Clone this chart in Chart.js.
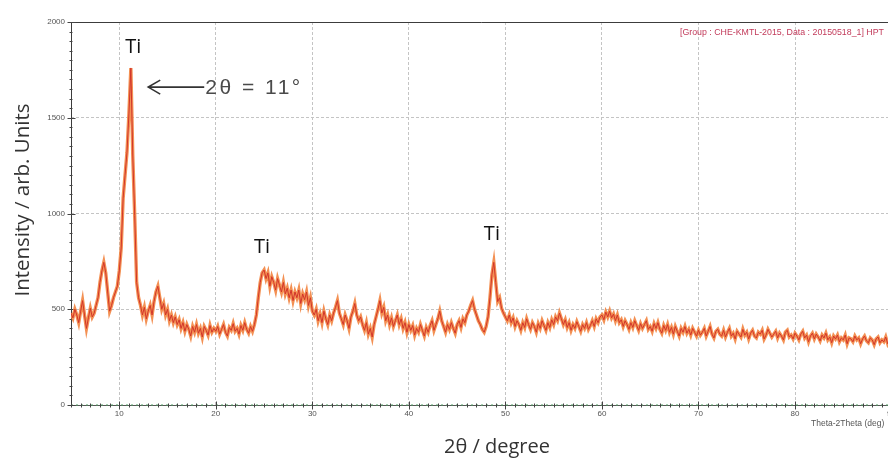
<!DOCTYPE html>
<html>
<head>
<meta charset="utf-8">
<script src="https://cdn.jsdelivr.net/npm/chart.js@4.4.1/dist/chart.umd.min.js"></script>
<style>
  html, body { margin: 0; padding: 0; background: #fff; overflow: hidden; }
  #wrap { position: relative; width: 900px; height: 460px; }
</style>
</head>
<body>
<div id="wrap"><canvas id="xrd" width="900" height="460"></canvas></div>
<script>
// Theta-2Theta scan: start angle and step (degrees)
const scanStart = 5;
const scanStep = 0.2;

// Measured intensity, 5.0 - 19.8 deg
const counts05to20 = [
  480, 455, 500, 470, 430, 490, 545, 470, 400, 455,
  505, 460, 480, 520, 560, 640, 700, 745, 690, 590,
  490, 520, 560, 590, 620, 700, 820, 1080, 1200, 1320,
  1520, 1760, 1300, 990, 640, 560, 520, 470, 510, 450,
  490, 520, 470, 540, 590, 620, 560, 500, 530, 470,
  500, 440, 470, 430, 460, 420, 445, 400, 430, 385,
  420, 395, 360, 410, 380, 420, 375, 400, 355, 410,
  390, 365, 415, 380, 400
];
// 20.0 - 34.8 deg
const counts20to35 = [
  385, 410, 370, 395, 420, 380, 360, 405, 390, 425,
  385, 400, 370, 415, 390, 430, 395, 375, 410, 385,
  420, 470, 560, 640, 690, 705, 660, 690, 620, 670,
  640, 600, 660, 625, 590, 640, 580, 610, 560, 600,
  545, 590, 560, 600, 530, 580, 550, 590, 520, 560,
  490, 470, 500, 440, 475, 430, 490, 450, 420, 470,
  440, 480, 510, 545, 480, 450, 420, 470, 440, 400,
  460, 490, 530, 470, 440
];
// 35.0 - 49.8 deg
const counts35to50 = [
  460, 420, 390, 430, 370, 400, 355, 420, 460, 500,
  545, 480, 510, 440, 470, 420, 455, 410, 440, 470,
  420, 450, 400, 430, 380, 420, 390, 415, 365, 400,
  380, 420, 390, 360, 405, 380, 415, 440, 390, 420,
  450, 490, 440, 410, 380, 420, 395, 430, 400, 375,
  420, 440, 405, 450, 430, 470, 490, 520, 545, 500,
  470, 440, 420, 395, 380, 410, 460, 560, 680, 745,
  640, 540, 560, 505, 480
];
// 50.0 - 69.8 deg
const counts50to70 = [
  460, 440, 470, 430, 455, 410, 440, 420, 390, 430,
  405, 450, 420, 395, 430, 410, 380, 425, 400, 440,
  415, 390, 430, 405, 445, 420, 460, 440, 480, 450,
  420, 445, 405, 430, 390, 420, 400, 435, 410, 385,
  420, 400, 430, 395, 415, 440, 410, 450, 430, 460,
  470, 445, 485, 460, 490, 455, 475, 440, 470, 430,
  445, 410, 440, 420, 395, 430, 405, 440, 415, 390,
  425, 400, 420, 440, 395, 410, 385, 425, 400, 430,
  395, 375, 415, 390, 420, 380, 405, 370, 410, 385,
  360, 400, 380, 410, 375, 395, 365, 400, 380, 360
];
// 70.0 - 90.0 deg
const counts70to90 = [
  390, 365, 380, 400, 360, 385, 410, 370, 350, 385,
  395, 370, 360, 390, 355, 380, 400, 360, 375, 345,
  385, 370, 355, 395, 365, 380, 345, 375, 390, 360,
  350, 380, 370, 390, 345, 365, 395, 375, 355, 370,
  385, 350, 375, 360, 340, 380, 390, 355, 365, 345,
  375, 360, 340, 370, 385, 350, 365, 330, 360, 375,
  345, 370, 355, 335, 365, 350, 375, 340, 355, 325,
  360, 345, 365, 330, 350, 340, 365, 320, 350, 345,
  330, 360, 340, 350, 320, 345, 360, 335, 325, 350,
  340, 315, 345, 355, 325, 340, 330, 355, 320, 340,
  335
];

// Axis tick labels
const xTickValues = [10, 20, 30, 40, 50, 60, 70, 80, 90];
const yTickValues = [0, 500, 1000, 1500, 2000];

const intensity = [].concat(counts05to20, counts20to35, counts35to50, counts50to70, counts70to90);
const scanPoints = intensity.map((v, i) => ({ x: +(scanStart + i * scanStep).toFixed(2), y: v }));

// Frame, minor ticks, peak labels and axis titles
const framePlugin = {
  id: 'frame',
  beforeDatasetsDraw(chart) {
    const { ctx, chartArea: a, scales: { x, y } } = chart;
    ctx.save();
    ctx.lineWidth = 1;
    ctx.strokeStyle = '#3c3c3c';
    // top border
    const yTop = Math.round(y.getPixelForValue(2000)) + 0.5;
    ctx.beginPath(); ctx.moveTo(a.left, yTop); ctx.lineTo(a.right, yTop); ctx.stroke();
    // left axis
    const xl = Math.round(a.left) + 0.5;
    ctx.beginPath(); ctx.moveTo(xl, a.top); ctx.lineTo(xl, a.bottom); ctx.stroke();
    // bottom axis
    const yb = Math.round(y.getPixelForValue(0)) + 0.5;
    ctx.strokeStyle = '#555';
    ctx.beginPath(); ctx.moveTo(a.left, yb); ctx.lineTo(a.right, yb); ctx.stroke();
    ctx.strokeStyle = '#4f9e63';
    ctx.setLineDash([2, 3]);
    ctx.beginPath(); ctx.moveTo(a.left, yb - 0.5); ctx.lineTo(a.right, yb - 0.5); ctx.stroke();
    ctx.setLineDash([]);
    // x ticks: every degree, longer at tens
    ctx.strokeStyle = '#444';
    for (let d = 5; d <= 90; d++) {
      const px = Math.round(x.getPixelForValue(d)) + 0.5;
      const len = d % 10 === 0 ? 4 : 2;
      ctx.beginPath(); ctx.moveTo(px, yb - len); ctx.lineTo(px, yb + len); ctx.stroke();
    }
    // y ticks: every 50 counts
    for (let c = 0; c <= 2000; c += 50) {
      const py = Math.round(y.getPixelForValue(c)) + 0.5;
      const len = c % 500 === 0 ? 4 : 2;
      ctx.beginPath(); ctx.moveTo(xl - len, py); ctx.lineTo(xl + (c % 500 === 0 ? len : 1), py); ctx.stroke();
    }
    ctx.restore();
  },
  afterDraw(chart) {
    const { ctx, scales: { x, y } } = chart;
    ctx.save();
    ctx.textAlign = 'center';
    ctx.textBaseline = 'middle';
    // peak labels
    ctx.fillStyle = '#111';
    ctx.font = '20px "Open Sans", "Noto Sans", sans-serif';
    [[11.45, 1870], [24.8, 825], [48.6, 893]].forEach(([ang, cnt]) => {
      ctx.fillText('Ti', x.getPixelForValue(ang), y.getPixelForValue(cnt));
    });
    // arrow pointing at the main reflection
    const ay = y.getPixelForValue(1660);
    const ax0 = x.getPixelForValue(13.0);
    const ax1 = x.getPixelForValue(18.8);
    ctx.strokeStyle = '#333';
    ctx.lineWidth = 1.6;
    ctx.beginPath();
    ctx.moveTo(ax1, ay); ctx.lineTo(ax0, ay);
    ctx.moveTo(ax0 + 12, ay - 7); ctx.lineTo(ax0, ay); ctx.lineTo(ax0 + 12, ay + 7);
    ctx.stroke();
    ctx.fillStyle = '#4a4a4a';
    ctx.textAlign = 'left';
    ctx.font = '21px "Liberation Sans", Arial, sans-serif';
    ctx.letterSpacing = '2.5px';
    ctx.fillText('2\u03b8 = 11\u00b0', ax1 + 1, ay + 1);
    ctx.letterSpacing = '0px';
    // axis titles
    ctx.fillStyle = '#333';
    ctx.textAlign = 'center';
    ctx.font = '20px "Open Sans", "Noto Sans", sans-serif';
    ctx.fillText('2\u03b8 / degree', 497, 447);
    ctx.save();
    ctx.translate(23, 200);
    ctx.rotate(-Math.PI / 2);
    ctx.font = '20.5px "Open Sans", "Noto Sans", sans-serif';
    ctx.fillText('Intensity / arb. Units', 0, 0);
    ctx.restore();
    // instrument captions
    ctx.textAlign = 'left';
    ctx.font = '8.8px "Liberation Sans", Arial, sans-serif';
    ctx.fillStyle = '#c23a5a';
    ctx.fillText('[Group : CHE-KMTL-2015, Data : 20150518_1] HPT', 680, 33);
    ctx.fillStyle = '#555';
    ctx.font = '8.5px "Liberation Sans", Arial, sans-serif';
    ctx.fillText('Theta-2Theta (deg)', 811, 424);
    ctx.restore();
  }
};

const hideEnds = (ctx) => (ctx.tick && (ctx.tick.value === 0 || ctx.tick.value === 2000)) ? 'rgba(0,0,0,0)' : '#c4c4c4';
const plainLabel = (v) => String(v);

new Chart(document.getElementById('xrd'), {
  type: 'line',
  data: {
    datasets: [
      {
        // dark trace on top
        data: scanPoints,
        borderColor: '#d2352b',
        borderWidth: 1,
        pointRadius: 0,
        tension: 0,
        fill: false,
        order: 0
      },
      {
        // broad orange band underneath
        data: scanPoints,
        borderColor: 'rgba(242,132,64,0.9)',
        borderWidth: 3.4,
        pointRadius: 0,
        tension: 0,
        fill: false,
        order: 1
      }
    ]
  },
  options: {
    responsive: false,
    animation: false,
    devicePixelRatio: 1,
    layout: { padding: { top: 22, right: 8, left: 0, bottom: 0 } },
    plugins: { legend: { display: false }, tooltip: { enabled: false } },
    scales: {
      x: {
        type: 'linear',
        min: 5,
        max: 90,
        afterBuildTicks: (s) => { s.ticks = xTickValues.map(v => ({ value: v })); },
        afterFit: (s) => { s.height = 55; },
        grid: { color: '#c4c4c4', lineWidth: 1, drawTicks: false },
        border: { display: false, dash: [3, 2] },
        ticks: {
          autoSkip: false, maxRotation: 0, padding: 4, color: '#555',
          callback: plainLabel,
          font: { size: 8, family: '"Liberation Sans", Arial, sans-serif' }
        }
      },
      y: {
        min: 0,
        max: 2000,
        afterBuildTicks: (s) => { s.ticks = yTickValues.map(v => ({ value: v })); },
        afterFit: (s) => { s.width = 71; },
        grid: { color: hideEnds, lineWidth: 1, drawTicks: false },
        border: { display: false, dash: [3, 2] },
        ticks: {
          padding: 6, color: '#555',
          callback: plainLabel,
          font: { size: 8, family: '"Liberation Sans", Arial, sans-serif' }
        }
      }
    }
  },
  plugins: [framePlugin]
});
</script>
</body>
</html>
